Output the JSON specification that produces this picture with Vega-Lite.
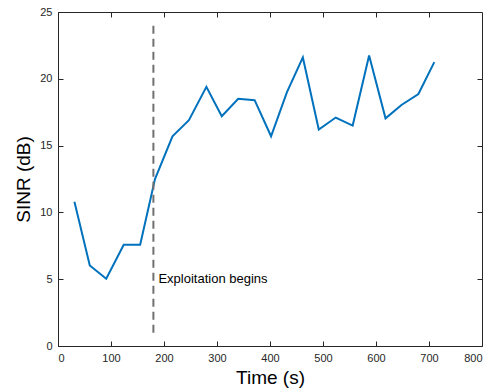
{
  "$schema": "https://vega.github.io/schema/vega-lite/v6.json",
  "autosize": "none",
  "padding": {"left": 58, "top": 12, "right": 8, "bottom": 46},
  "width": 424,
  "height": 334,
  "background": "white",
  "config": {
    "view": {"stroke": "#262626", "strokeWidth": 1},
    "font": "Liberation Sans",
    "axis": {
      "domainColor": "#262626",
      "tickColor": "#262626",
      "labelColor": "#262626",
      "titleColor": "#000000",
      "labelFont": "Liberation Sans",
      "titleFont": "Liberation Sans",
      "labelFontSize": 11,
      "titleFontSize": 19,
      "titleFontWeight": "normal",
      "grid": false,
      "tickSize": -5,
      "domainWidth": 1,
      "tickWidth": 1
    }
  },
  "datasets": {
    "sinr": [
      {"t": 31, "v": 10.8}, {"t": 60, "v": 6.03}, {"t": 91, "v": 5.04}, {"t": 124, "v": 7.58},
      {"t": 155, "v": 7.58}, {"t": 183, "v": 12.5}, {"t": 216, "v": 15.7}, {"t": 247, "v": 16.9},
      {"t": 280, "v": 19.4}, {"t": 309, "v": 17.2}, {"t": 340, "v": 18.5}, {"t": 371, "v": 18.4},
      {"t": 402, "v": 15.7}, {"t": 432, "v": 19.0}, {"t": 462, "v": 21.6}, {"t": 492, "v": 16.2},
      {"t": 524, "v": 17.1}, {"t": 556, "v": 16.5}, {"t": 587, "v": 21.75}, {"t": 618, "v": 17.04},
      {"t": 648, "v": 18.04}, {"t": 680, "v": 18.86}, {"t": 710, "v": 21.25}
    ],
    "marker": [{"t": 180, "y1": 1, "y2": 24, "label": "Exploitation begins", "ty": 5}]
  },
  "resolve": {"axis": {"x": "independent", "y": "independent"}},
  "layer": [
    {
      "data": {"name": "sinr"},
      "mark": {"type": "line", "color": "#0072BD", "strokeWidth": 2},
      "encoding": {
        "x": {"field": "t", "type": "quantitative", "scale": {"domain": [0, 800], "nice": false},
              "axis": {"orient": "bottom", "title": "Time (s)", "values": [0,100,200,300,400,500,600,700,800], "labelPadding": 11, "titlePadding": 5}},
        "y": {"field": "v", "type": "quantitative", "scale": {"domain": [0, 25], "nice": false},
              "axis": {"orient": "left", "title": "SINR (dB)", "values": [0,5,10,15,20,25], "labelPadding": 11, "titlePadding": 6}}
      }
    },
    {
      "data": {"name": "sinr"},
      "mark": {"type": "point", "opacity": 0},
      "encoding": {
        "x": {"field": "t", "type": "quantitative", "scale": {"domain": [0, 800], "nice": false},
              "axis": {"orient": "top", "title": null, "labels": true, "labelExpr": "''", "tickSize": -5, "tickColor": "#262626", "domain": false, "values": [100,200,300,400,500,600,700]}},
        "y": {"field": "v", "type": "quantitative", "scale": {"domain": [0, 25], "nice": false},
              "axis": {"orient": "right", "title": null, "labels": true, "labelExpr": "''", "tickSize": -5, "tickColor": "#262626", "domain": false, "values": [5,10,15,20]}}
      }
    },
    {
      "data": {"name": "marker"},
      "mark": {"type": "rule", "color": "#707070", "strokeWidth": 2, "strokeDash": [8, 5]},
      "encoding": {
        "x": {"field": "t", "type": "quantitative", "scale": {"domain": [0, 800], "nice": false}, "axis": null},
        "y": {"field": "y1", "type": "quantitative", "scale": {"domain": [0, 25], "nice": false}, "axis": null},
        "y2": {"field": "y2"}
      }
    },
    {
      "data": {"name": "marker"},
      "mark": {"type": "text", "align": "left", "baseline": "middle", "dx": 5, "fontSize": 13, "color": "#000000", "font": "Liberation Sans"},
      "encoding": {
        "x": {"field": "t", "type": "quantitative", "scale": {"domain": [0, 800], "nice": false}, "axis": null},
        "y": {"field": "ty", "type": "quantitative", "scale": {"domain": [0, 25], "nice": false}, "axis": null},
        "text": {"field": "label"}
      }
    }
  ]
}
